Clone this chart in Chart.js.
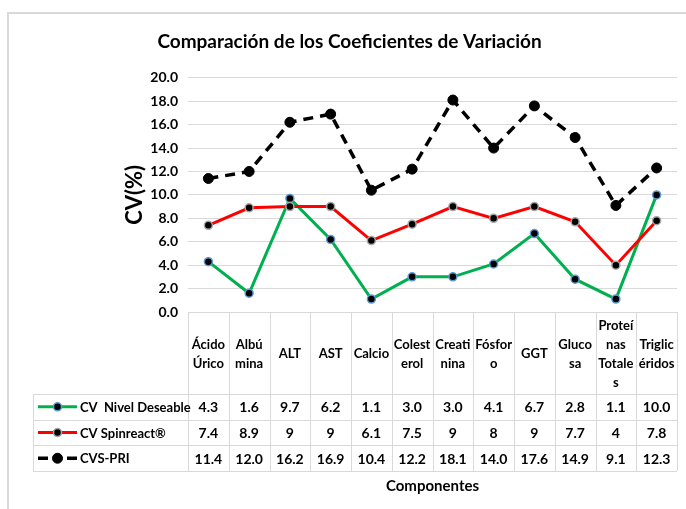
<!DOCTYPE html>
<html><head><meta charset="utf-8">
<script src="https://cdn.jsdelivr.net/npm/chart.js@4.4.1/dist/chart.umd.min.js"></script>
<style>html,body{margin:0;padding:0;background:#fff;}#wrap{width:686px;height:509px;position:relative;}</style>
</head><body><div id="wrap"><canvas id="c" width="686" height="509"></canvas></div>
<script>
const FONT = "Lato, 'Liberation Sans', sans-serif";
const chartTitle = 'Comparación de los Coeficientes de Variación';
const yAxisTitle = 'CV(%)';
const xAxisTitle = 'Componentes';
const categories = [['Ácido','Úrico'],['Albú','mina'],['ALT'],['AST'],['Calcio'],['Colest','erol'],['Creati','nina'],['Fósfor','o'],['GGT'],['Gluco','sa'],['Proteí','nas','Totale','s'],['Triglic','éridos']];
const seriesNames = ['CV  Nivel Deseable','CV Spinreact®','CVS-PRI'];
const nivelDeseable = [4.3,1.6,9.7,6.2,1.1,3.0,3.0,4.1,6.7,2.8,1.1,10.0];
const spinreact = [7.4,8.9,9,9,6.1,7.5,9,8,9,7.7,4,7.8];
const cvsPri = [11.4,12.0,16.2,16.9,10.4,12.2,18.1,14.0,17.6,14.9,9.1,12.3];
const yTicks = {min:0, max:20, step:2};

const tableRows = [
  nivelDeseable.map(v=>v.toFixed(1)),
  spinreact.map(v=>String(v)),
  cvsPri.map(v=>v.toFixed(1))
];

const tablePlugin = {
  id:'tablePlugin',
  beforeDraw(chart){
    const ctx = chart.ctx;
    ctx.save();
    ctx.fillStyle = '#fff';
    ctx.fillRect(0,0,chart.width,chart.height);
    ctx.strokeStyle = '#D9D9D9';
    ctx.lineWidth = 2;
    ctx.beginPath();
    ctx.moveTo(8, chart.height); ctx.lineTo(8, 13); ctx.lineTo(chart.width, 13);
    ctx.stroke();
    ctx.restore();
  },
  afterDraw(chart){
    const ctx = chart.ctx;
    const ca = chart.chartArea;
    const xs = chart.scales.x;
    const n = categories.length;
    const w = (ca.right - ca.left)/n;
    const headerH = 82, rowH = 25.7;
    const top = ca.bottom;
    const r0 = top + headerH;
    const tableLeft = 33;
    ctx.save();
    ctx.strokeStyle = '#D9D9D9';
    ctx.lineWidth = 1;
    ctx.beginPath();
    for (let i=0;i<=n;i++){
      const x = Math.round(ca.left + i*w)+0.5;
      ctx.moveTo(x, top); ctx.lineTo(x, r0 + 3*rowH);
    }
    for (let r=0;r<=3;r++){
      const y = Math.round(r0 + r*rowH)+0.5;
      ctx.moveTo(tableLeft, y); ctx.lineTo(ca.right, y);
    }
    ctx.moveTo(tableLeft+0.5, r0); ctx.lineTo(tableLeft+0.5, r0+3*rowH);
    ctx.stroke();

    ctx.fillStyle = '#000';
    ctx.textAlign = 'center';
    ctx.textBaseline = 'middle';
    ctx.font = "bold 13px " + FONT;
    const lh = 19;
    categories.forEach((lines,i)=>{
      const cx = xs.getPixelForValue(i);
      const cy = top + headerH/2 + 1;
      lines.forEach((t,k)=>{
        ctx.fillText(t, cx, cy + (k - (lines.length-1)/2)*lh);
      });
    });
    ctx.font = "bold 14px " + FONT;
    tableRows.forEach((row,r)=>{
      const cy = r0 + (r+0.5)*rowH + 1;
      row.forEach((t,i)=>{
        ctx.fillText(t, xs.getPixelForValue(i), cy);
      });
    });
    chart.data.datasets.forEach((ds,r)=>{
      const cy = r0 + (r+0.5)*rowH;
      ctx.save();
      ctx.strokeStyle = ds.borderColor;
      ctx.lineWidth = ds.borderWidth;
      if (ds.borderDash) ctx.setLineDash([10,19]);
      ctx.beginPath();
      ctx.moveTo(38, cy); ctx.lineTo(77, cy);
      ctx.stroke();
      ctx.setLineDash([]);
      ctx.beginPath();
      ctx.arc(57.5, cy, ds.pointRadius, 0, Math.PI*2);
      ctx.fillStyle = ds.pointBackgroundColor;
      ctx.fill();
      ctx.lineWidth = ds.pointBorderWidth;
      ctx.strokeStyle = ds.pointBorderColor;
      ctx.stroke();
      ctx.restore();
      ctx.font = "bold 13px " + FONT;
      ctx.textAlign = 'left';
      ctx.fillStyle = '#000';
      ctx.fillText(ds.label, 80, cy + 1);
    });
    ctx.textAlign = 'center';
    ctx.font = "bold 15px " + FONT;
    ctx.fillText(xAxisTitle, (ca.left+ca.right)/2, r0 + 3*rowH + 15);
    ctx.restore();
  }
};

new Chart(document.getElementById('c'), {
  type:'line',
  data:{
    labels: categories.map(c=>c.join('')),
    datasets:[
      {label:seriesNames[0], data:nivelDeseable, borderColor:'#00B050', borderWidth:3,
       pointRadius:4, pointBorderWidth:1.5, pointBackgroundColor:'#000', pointBorderColor:'#5B9BD5', order:3},
      {label:seriesNames[1], data:spinreact, borderColor:'#FF0000', borderWidth:3,
       pointRadius:4, pointBorderWidth:1.5, pointBackgroundColor:'#000', pointBorderColor:'#A6A6A6', order:2},
      {label:seriesNames[2], data:cvsPri, borderColor:'#000000', borderWidth:3.5, borderDash:[10,7],
       pointRadius:5, pointBorderWidth:1, pointBackgroundColor:'#000', pointBorderColor:'#000', order:1}
    ]
  },
  options:{
    responsive:false, animation:false, devicePixelRatio:1,
    layout:{padding:{top:18,left:22,right:9,bottom:197}},
    plugins:{
      legend:{display:false}, tooltip:{enabled:false},
      title:{display:true, text:chartTitle, color:'#000', font:{family:FONT, size:19, weight:'bold'}, padding:{top:12,bottom:25}}
    },
    scales:{
      x:{type:'category', offset:true, grid:{display:false}, border:{display:false}, ticks:{display:false},
         afterFit(s){ s.height = 0; }},
      y:{min:yTicks.min, max:yTicks.max, border:{display:false},
         grid:{color:'#D9D9D9', lineWidth:1, drawTicks:false},
         ticks:{stepSize:yTicks.step, color:'#000', padding:10, font:{family:FONT, size:14, weight:'bold'},
                callback:(v)=>Number(v).toFixed(1)},
         title:{display:true, text:yAxisTitle, color:'#000', font:{family:FONT, size:22, weight:'bold'}, padding:{top:100,bottom:0}},
         afterFit(s){ s.width = 166; }}
    }
  },
  plugins:[tablePlugin]
});
</script></body></html>
